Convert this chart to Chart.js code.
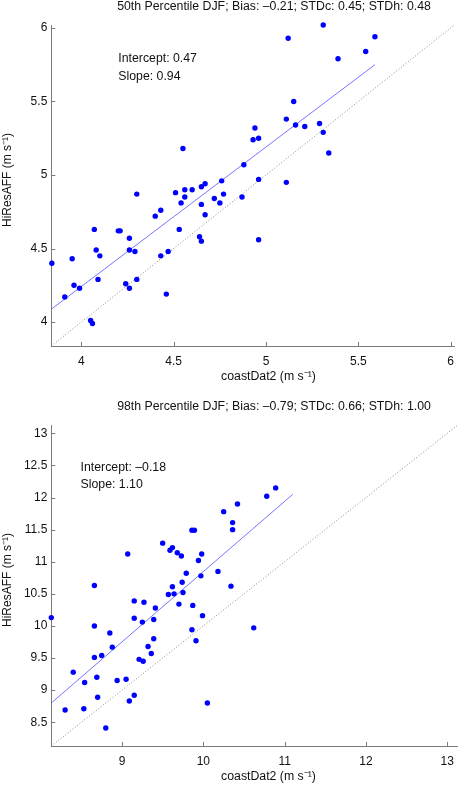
<!DOCTYPE html>
<html>
<head>
<meta charset="utf-8">
<script src="https://cdn.jsdelivr.net/npm/chart.js@4"></script>
<style>
  html, body { margin: 0; padding: 0; background: #fff; overflow: hidden; }
  canvas { position: absolute; left: 0; }
  #c1 { top: 0; }
  #c2 { top: 400px; }
</style>
</head>
<body>
<canvas id="c1" width="462" height="393"></canvas>
<canvas id="c2" width="462" height="393"></canvas>
<script>
// 50th percentile panel
const p50Title = '50th Percentile DJF; Bias: \u20130.21; STDc: 0.45; STDh: 0.48';
const p50Notes = ['Intercept: 0.47', 'Slope: 0.94'];
const p50Coast = [5.31, 5.12, 5.59, 5.54, 5.39, 5.15, 5.11, 5.29, 5.16, 5.21, 5.31, 4.94, 4.93, 4.96, 5.34,
  4.55, 4.88, 4.96, 5.11, 4.76, 4.67, 4.65, 4.30, 4.51, 4.56, 4.60, 4.56, 4.72, 4.77, 4.87,
  4.54, 4.65, 4.75, 4.67, 4.40, 4.43, 4.07, 4.20, 4.21, 4.53, 4.26, 4.64, 4.65, 4.96, 4.08,
  4.26, 4.29, 4.47, 3.95, 4.10, 4.43, 3.84, 4.09, 4.30, 3.96, 3.99, 4.24, 4.26, 3.91, 4.46,
  4.05, 4.06];
const p50Hires = [6.02, 5.93, 5.94, 5.84, 5.79, 5.50, 5.38, 5.35, 5.34, 5.33, 5.29, 5.32, 5.24, 5.25, 5.15,
  5.18, 5.07, 4.97, 4.95, 4.96, 4.94, 4.92, 4.87, 4.88, 4.90, 4.90, 4.85, 4.84, 4.87, 4.85,
  4.81, 4.80, 4.81, 4.73, 4.72, 4.76, 4.63, 4.62, 4.62, 4.63, 4.57, 4.58, 4.55, 4.56, 4.49,
  4.49, 4.48, 4.48, 4.43, 4.45, 4.45, 4.40, 4.29, 4.29, 4.25, 4.23, 4.26, 4.23, 4.17, 4.19,
  4.01, 3.99];
const p50FitX = [3.84, 5.59];
const p50FitY = [4.09, 5.75];
const p50Lim = [3.837, 6.02];
const p50Ticks = [4, 4.5, 5, 5.5, 6];
const p50TickLabels = ['4', '4.5', '5', '5.5', '6'];
const p50NoteAt = [4.2, 5.79];

// 98th percentile panel
const p98Title = '98th Percentile DJF; Bias: \u20130.79; STDc: 0.66; STDh: 1.00';
const p98Notes = ['Intercept: \u20130.18', 'Slope: 1.10'];
const p98Coast = [10.89, 10.78, 10.42, 10.25, 10.36, 10.36, 9.86, 9.89, 9.50, 9.07, 9.59, 9.62, 9.68, 9.73, 9.98,
  9.94, 10.18, 9.79, 9.97, 9.74, 8.66, 9.62, 10.34, 9.57, 9.64, 9.75, 9.15, 9.27, 9.70, 9.87,
  9.41, 8.13, 9.99, 9.15, 9.39, 9.25, 8.66, 10.62, 9.86, 8.85, 9.39, 9.91, 8.88, 9.32, 9.36,
  8.75, 8.66, 9.21, 9.26, 8.40, 8.69, 8.54, 9.05, 8.94, 8.70, 9.15, 9.09, 10.05, 8.30, 8.53,
  8.80];
const p98Hires = [12.15, 12.02, 11.90, 11.78, 11.61, 11.50, 11.49, 11.49, 11.29, 11.12, 11.18, 11.22, 11.14, 11.09, 11.12,
  11.02, 10.85, 10.82, 10.78, 10.68, 10.63, 10.61, 10.62, 10.49, 10.50, 10.52, 10.39, 10.37, 10.34, 10.32,
  10.28, 10.13, 10.16, 10.12, 10.10, 10.06, 10.00, 9.97, 9.94, 9.89, 9.80, 9.77, 9.67, 9.68, 9.57,
  9.54, 9.51, 9.48, 9.45, 9.28, 9.20, 9.12, 9.17, 9.15, 8.89, 8.92, 8.83, 8.80, 8.69, 8.71,
  8.41];
const p98FitX = [8.13, 11.10];
const p98FitY = [8.80, 12.05];
const p98Lim = [8.13, 13.13];
const p98XTicks = [9, 10, 11, 12, 13];
const p98XTickLabels = ['9', '10', '11', '12', '13'];
const p98YTicks = [8.5, 9, 9.5, 10, 10.5, 11, 11.5, 12, 12.5, 13];
const p98YTickLabels = ['8.5', '9', '9.5', '10', '10.5', '11', '11.5', '12', '12.5', '13'];
const p98NoteAt = [8.49, 12.47];

const xLabel = 'coastDat2 (m s\u207B\u00B9)';
const yLabel = 'HiResAFF (m s\u207B\u00B9)';
const FONT = "'Liberation Sans', Arial, Helvetica, sans-serif";
const AXIS = '#7a7a7a';

// titles, notes, axis labels and inward tick marks, MATLAB style
const decor = {
  id: 'decor',
  afterDraw(chart, args, opts) {
    const ctx = chart.ctx;
    const a = chart.chartArea;
    const xs = chart.scales.x, ys = chart.scales.y;
    ctx.save();
    ctx.strokeStyle = AXIS;
    ctx.lineWidth = 1;
    ctx.beginPath();
    xs.ticks.forEach(t => {
      const px = Math.round(xs.getPixelForValue(t.value)) + 0.5;
      ctx.moveTo(px, a.bottom);
      ctx.lineTo(px, a.bottom - 4);
    });
    ys.ticks.forEach(t => {
      const py = Math.round(ys.getPixelForValue(t.value)) + 0.5;
      ctx.moveTo(a.left, py);
      ctx.lineTo(a.left + 4, py);
    });
    ctx.stroke();

    ctx.fillStyle = '#111';
    ctx.textBaseline = 'middle';
    ctx.textAlign = 'center';
    ctx.font = '12.3px ' + FONT;
    ctx.fillText(opts.title, 274, a.top - 18);
    ctx.fillText(xLabel, 268.5, a.bottom + 31);

    ctx.textAlign = 'left';
    const nx = xs.getPixelForValue(opts.noteAt[0]);
    const ny = ys.getPixelForValue(opts.noteAt[1]);
    opts.notes.forEach((s, i) => ctx.fillText(s, nx, ny + i * 17.7));

    ctx.font = '12px ' + FONT;
    ctx.translate(7.5, (a.top + a.bottom) / 2 - 5.5);
    ctx.rotate(-Math.PI / 2);
    ctx.textAlign = 'center';
    ctx.fillText(yLabel, 0, 0);
    ctx.restore();
  }
};

function axis(lim, ticks, labels, horizontal) {
  return {
    type: 'linear',
    min: lim[0],
    max: lim[1],
    grid: { display: false, drawTicks: false },
    border: { display: true, color: AXIS, width: 1 },
    afterBuildTicks: s => { s.ticks = ticks.map(v => ({ value: v })); },
    afterFit: s => { if (horizontal) s.height = 47; else s.width = 51.3; },
    ticks: {
      color: '#111',
      font: { family: FONT, size: 12 },
      padding: horizontal ? 8 : 4,
      maxRotation: 0,
      autoSkip: false,
      callback: (v, i) => labels[i]
    }
  };
}

function panel(id, coast, hires, fitX, fitY, lim, xt, xtl, yt, ytl, title, notes, noteAt) {
  const pts = coast.map((c, i) => ({ x: c, y: hires[i] }));
  return new Chart(document.getElementById(id), {
    type: 'scatter',
    data: {
      datasets: [
        {
          data: pts,
          backgroundColor: '#0000ff',
          borderWidth: 0,
          pointRadius: 2.7,
          clip: false
        },
        {
          type: 'line',
          data: fitX.map((c, i) => ({ x: c, y: fitY[i] })),
          borderColor: 'rgba(40,40,255,0.8)',
          borderWidth: 0.8,
          pointRadius: 0
        },
        {
          type: 'line',
          data: lim.map(v => ({ x: v, y: v })),
          borderColor: '#8a8a8a',
          borderWidth: 1,
          borderDash: [1, 2],
          pointRadius: 0
        }
      ]
    },
    options: {
      responsive: false,
      animation: false,
      layout: { padding: { left: 0, right: 4, top: 25, bottom: 0 } },
      plugins: {
        legend: { display: false },
        tooltip: { enabled: false },
        decor: { title: title, notes: notes, noteAt: noteAt }
      },
      scales: {
        x: axis(lim, xt, xtl, true),
        y: axis(lim, yt, ytl, false)
      }
    },
    plugins: [decor]
  });
}

panel('c1', p50Coast, p50Hires, p50FitX, p50FitY, p50Lim,
  p50Ticks, p50TickLabels, p50Ticks, p50TickLabels, p50Title, p50Notes, p50NoteAt);
panel('c2', p98Coast, p98Hires, p98FitX, p98FitY, p98Lim,
  p98XTicks, p98XTickLabels, p98YTicks, p98YTickLabels, p98Title, p98Notes, p98NoteAt);
</script>
</body>
</html>
